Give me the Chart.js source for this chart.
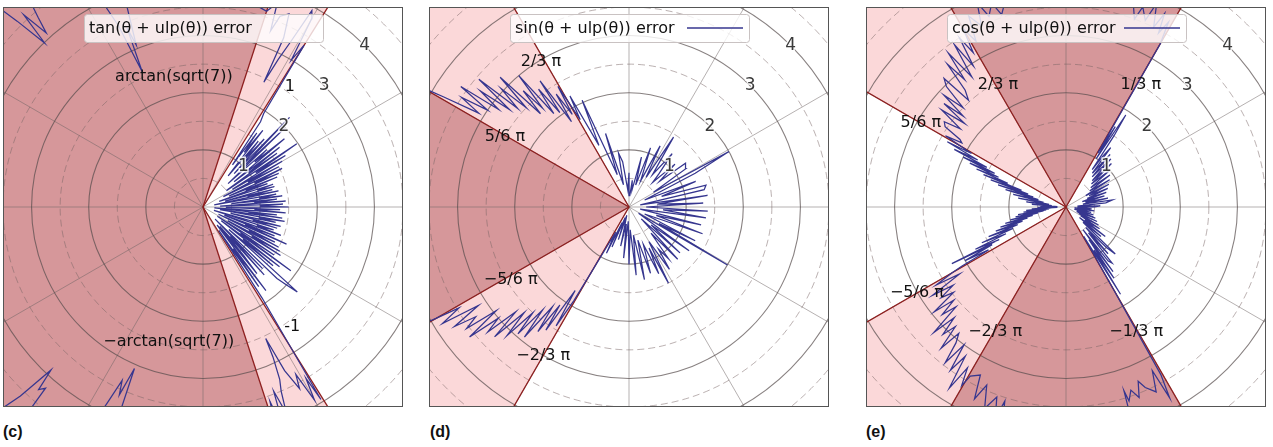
<!DOCTYPE html>
<html>
<head>
<meta charset="utf-8">
<script src="https://cdn.jsdelivr.net/npm/chart.js@4.4.1/dist/chart.umd.min.js"></script>
<style>
  body { margin: 0; background: #fff; }
  #wrap { position: relative; width: 1273px; height: 447px; overflow: hidden; }
  canvas { position: absolute; top: 7px; }
  .tag { position: absolute; top: 423px; font: bold 16px "Liberation Sans", Arial, sans-serif; color: #111; }
</style>
</head>
<body>
<div id="wrap">
  <canvas id="tanChart" width="400" height="400" style="left:3px"></canvas>
  <canvas id="sinChart" width="400" height="400" style="left:429px"></canvas>
  <canvas id="cosChart" width="400" height="400" style="left:866px"></canvas>
  <div class="tag" style="left:3px">(c)</div>
  <div class="tag" style="left:430px">(d)</div>
  <div class="tag" style="left:866px">(e)</div>
</div>
<script>
// error curves, theta in degrees, r in plot units
const tanTheta = [
  -180, -170, -160, -150, -140, -136, -134, -133, -132, -131,
  -130, -125, -118, -116, -115, -114, -113, -112, -110, -100,
  -90, -80, -75, -72, -71, -70, -69, -68, -67, -66,
  -65, -64.5, -63.5, -62, -61, -60, -59, -58.5,
  -57, -56, -55, -54, -53, -52, -51, -50, -49, -48,
  -47, -46, -45, -44, -43, -42, -41, -40, -39, -38,
  -37, -36, -35, -34, -33, -32, -31, -30, -29, -28,
  -27, -26, -25, -24, -23, -22, -21, -20, -19, -18,
  -17, -16, -15, -14, -13, -12, -11, -10, -9, -8,
  -7, -6, -5, -4, -3, -2, -1, 0, 1, 2,
  3, 4, 5, 6, 7, 8, 9, 10, 11, 12,
  13, 14, 15, 16, 17, 18, 19, 20, 21, 22,
  23, 24, 25, 26, 27, 28, 29, 30, 31, 32,
  33, 34, 35, 36, 37, 38, 39, 40, 41, 42,
  43, 44, 45, 46, 47, 48, 49, 50, 51, 52,
  53, 54, 55, 56, 57,
  58, 59, 60, 61, 62, 63, 64, 64.5, 66, 68,
  69, 70, 72, 74, 75, 80, 90, 100, 108, 110,
  112.4, 113, 114.2, 115, 117, 120, 128, 131, 132, 133,
  134, 135, 136, 140, 150, 165, 180
];
const tanR = [
  7, 7.5, 6.8, 7.2, 6.5, 5.5, 4.6, 3.9, 4.3, 4.2,
  5.2, 6.5, 5.0, 3.8, 3.35, 3.6, 3.07, 3.9, 5.5, 7,
  7.5, 6.5, 5.0, 4.3, 3.6, 4.2, 3.45, 3.9, 3.5, 3.3,
  2.9, 2.55, 3.2, 3.6, 3.35, 3.9, 3.5, 3.95,
  1.9, 0.5, 1.7, 0.9, 1.83, 0.4, 1.5, 1.1, 0.45, 1.6,
  0.7, 1.5, 0.3, 1.8, 2.0, 2.22, 0.6, 1.6, 0.9, 1.7,
  0.4, 1.9, 0.8, 1.5, 0.3, 1.6, 1.0, 1.55, 0.5, 1.5,
  0.9, 1.4, 0.3, 1.6, 0.8, 1.35, 0.4, 1.45, 1.0, 1.3,
  0.2, 1.35, 0.9, 1.4, 0.5, 1.3, 1.0, 1.45, 0.3, 1.4,
  0.8, 1.3, 0.2, 1.45, 0.9, 1.35, 0.4, 1.5, 1.0, 1.4,
  0.3, 1.45, 0.9, 1.3, 0.5, 1.4, 1.0, 1.3, 0.2, 1.35,
  0.8, 1.25, 0.4, 1.3, 1.0, 1.29, 0.3, 1.2, 0.8, 1.4,
  0.5, 1.45, 1.0, 1.54, 0.4, 1.5, 0.9, 1.6, 0.6, 1.7,
  1.1, 1.98, 0.5, 1.6, 1.0, 1.7, 0.7, 1.86, 1.2, 1.5,
  0.6, 2.0, 1.0, 2.18, 0.8, 1.6, 1.1, 1.5, 0.7, 1.7,
  1.2, 1.6, 0.9, 1.8, 1.95,
  3.34, 3.0, 3.8, 3.93, 3.3, 2.9, 2.43, 3.28, 3.7, 3.6,
  3.3, 3.8, 3.6, 3.63, 5, 6.5, 7, 6, 5, 4.2,
  3.07, 3.4, 2.59, 3.5, 4.5, 6, 5.5, 4.4, 4.1, 4.6,
  3.99, 4.6, 5.2, 6.5, 7, 7.2, 7
];

const sinTheta = [
  -180, -170, -160, -152, -150.5,
  -150, -149.3, -148, -146.8, -145.6, -144.4, -143.2, -142, -140.8, -139.6,
  -138.5, -137.2, -136, -134.8, -133.5, -132.3, -131.2, -130, -128.8, -127.5,
  -126.2, -125.2, -124, -122.8, -121.5, -120.5,
  -120, -118, -116, -114, -113, -110, -108, -105, -102, -99,
  -96, -93, -90, -87, -84, -81, -78, -75, -72, -69,
  -66, -64, -62.6, -60, -57, -55, -52.6, -50, -47, -44,
  -42, -39, -36, -33, -30.5, -29, -27, -24, -20, -17,
  -14, -11, -8, -5, -3, 0, 3, 6, 8.5, 11,
  13, 15.8, 18, 21, 24, 27, 29, 31, 34, 37.7,
  40, 43, 46, 48, 51, 54, 57.5, 60, 63, 66,
  70, 73, 76, 80, 83, 86, 90, 94, 98, 101,
  104, 107.7, 110, 113.7, 116,
  118, 119.2, 120.5, 121.5, 122.8, 124, 125.2, 126.2, 127.5, 128.8,
  130, 131.2, 132.3, 133.5, 134.8, 136, 137.2, 138.5, 139.6, 140.8,
  142, 143.2, 144.4, 145.6, 146.8, 148, 149.3, 150,
  152, 160, 170, 180
];
const sinR = [
  6.5, 7, 6.8, 6, 4.2,
  3.9, 3.46, 3.85, 3.15, 3.7, 3.3, 3.55, 2.95, 3.6, 3.0,
  3.3, 2.7, 3.27, 2.6, 3.1, 2.5, 2.95, 2.35, 2.92, 2.2,
  2.7, 2.1, 2.6, 1.74, 2.44, 1.9,
  1.3, 0.5, 0.9, 0.3, 0.76, 0.2, 0.6, 0.15, 0.7, 0.3,
  0.9, 0.25, 1.0, 0.4, 1.2, 0.5, 1.3, 0.6, 1.22, 0.7,
  1.28, 0.8, 1.5, 0.7, 1.3, 0.9, 1.14, 0.6, 1.25, 0.3,
  1.2, 0.5, 1.3, 0.2, 2.0, 0.6, 1.3, 0.3, 1.37, 0.5,
  1.3, 0.2, 1.36, 0.6, 1.38, 0.3, 1.3, 0.5, 1.39, 0.2,
  1.35, 1.4, 0.6, 1.25, 0.3, 1.3, 2.0, 0.5, 1.2, 1.25,
  0.7, 1.1, 0.6, 0.79, 1.2, 0.7, 1.45, 0.6, 1.2, 0.5,
  1.1, 0.4, 0.9, 0.3, 0.47, 0.2, 0.6, 0.3, 0.8, 0.96,
  0.4, 1.35, 0.6, 2.04, 1.2,
  2.2, 1.75, 2.45, 1.9, 2.35, 1.8, 2.7, 2.05, 2.6, 2.1,
  3.0, 2.3, 2.75, 2.25, 3.2, 2.5, 3.05, 2.6, 3.45, 2.7,
  3.3, 2.85, 3.62, 3.0, 3.5, 3.1, 3.78, 4.2,
  6, 6.8, 7, 6.5
];

const cosTheta = [
  -180, -179, -178, -177, -176, -175, -174, -173, -172, -171,
  -170, -169, -168, -167, -166, -165, -164, -163, -162, -161,
  -160, -159, -158, -157, -156, -155, -154, -153.6, -153, -152,
  -151, -150.4,
  -150, -149, -147.8, -146.5, -145.3, -144, -142.8, -141.5, -140.3, -139,
  -137.8, -136.5, -135.3, -134, -132.8, -131.5, -130.3, -129, -127.8, -126.5,
  -125.3, -124, -122.8, -121.5, -120.3, -119.5,
  -117, -115.5, -114, -112, -110, -108.5, -107.5, -106, -104, -100,
  -90, -80, -75, -73, -72.5, -72, -70.5, -69, -67.5, -66.3,
  -64, -62.2, -61.5, -60.5,
  -60, -59, -58, -57, -56, -55, -54, -53, -52, -50.6,
  -49, -48, -46, -45, -43.6, -42, -40, -38, -37, -35,
  -33, -31, -29, -27, -25, -23, -21, -20, -18, -16,
  -14, -12, -10, -8, -6, -4, -2, 0, 2, 4,
  6, 8.7, 10, 12, 14, 16, 18, 20, 22, 24,
  26, 28, 30, 32, 34, 36, 38, 40, 42, 43.7,
  45, 47, 49, 50, 52, 53, 54, 55, 56, 57,
  58, 58.5, 59.5,
  60, 61, 62, 63, 64, 66, 67, 69, 70, 72,
  74, 78, 90, 100, 105, 107, 108.5, 110, 112, 113.5,
  115, 117, 118.5,
  120, 121, 122.2, 123.3, 124.5, 125.9, 127.4, 128.5, 129.7, 130.8,
  132.4, 133.5, 134.8, 136, 137.5, 138.5, 139.7, 140.5, 142, 143.5,
  145, 146.4, 147.5, 148.4, 149.4,
  150.5, 151.2, 152, 152.7, 153.4, 154.1, 154.8, 155.5, 156.2, 157,
  157.8, 158.6, 159.4, 160.2, 161, 162, 163, 164, 165, 166.5,
  168, 169.5, 171, 172.5, 174, 175.5, 177, 178.5, 180
];
const cosR = [
  0.3, 0.5, 0.15, 0.6, 0.25, 0.7, 0.3, 0.75, 0.35, 0.85,
  0.4, 0.9, 0.5, 1.0, 0.6, 1.1, 0.7, 1.2, 0.8, 1.3,
  0.9, 1.45, 1.0, 1.6, 1.15, 1.75, 1.3, 2.23, 1.45, 2.0,
  1.55, 2.1,
  2.3, 2.65, 2.2, 2.8, 2.4, 2.7, 2.47, 2.95, 2.55, 2.87,
  2.6, 3.19, 2.75, 3.1, 2.85, 3.3, 2.9, 3.06, 3.45, 3.0,
  3.5, 3.15, 3.77, 3.3, 3.62, 3.4,
  3.3, 3.72, 3.41, 3.8, 3.54, 3.9, 3.56, 4.1, 5, 6.5,
  7, 6.5, 5, 4, 3.37, 3.57, 3.4, 3.57, 3.3, 3.45,
  3.6, 3.24, 3.8, 3.37,
  1.6, 0.6, 1.8, 0.9, 1.5, 0.7, 1.4, 0.5, 1.2, 1.27,
  0.6, 1.1, 0.5, 1.0, 1.19, 0.4, 0.8, 0.3, 0.86, 0.4,
  0.7, 0.3, 0.65, 0.25, 0.6, 0.2, 0.55, 0.49, 0.2, 0.5,
  0.15, 0.45, 0.2, 0.5, 0.15, 0.45, 0.2, 0.5, 0.6, 0.2,
  0.7, 0.82, 0.3, 0.75, 0.35, 0.7, 0.3, 0.75, 0.4, 0.8,
  0.45, 0.85, 0.4, 0.9, 0.5, 0.95, 0.55, 1.0, 0.6, 1.1,
  0.65, 1.15, 0.7, 1.2, 0.75, 1.3, 1.11, 0.8, 1.5, 1.92,
  1.0, 1.65, 1.1,
  3.3, 3.7, 3.45, 3.8, 3.5, 3.9, 3.55, 3.75, 3.5, 3.8,
  4.3, 5.5, 7, 6, 4.5, 3.7, 3.55, 3.8, 3.6, 3.9,
  3.5, 3.75, 3.3,
  3.6, 3.15, 3.5, 2.95, 3.45, 2.81, 3.39, 2.85, 3.25, 2.7,
  2.53, 3.1, 2.97, 2.5, 2.9, 2.4, 2.8, 2.3, 2.76, 2.3,
  2.6, 2.54, 2.2, 2.14, 2.45,
  1.9, 2.37, 1.75, 2.2, 1.55, 2.0, 1.38, 1.85, 1.29, 1.7,
  1.1, 1.55, 0.83, 1.4, 0.7, 1.25, 0.6, 1.1, 0.5, 0.95,
  0.4, 0.85, 0.3, 0.7, 0.25, 0.6, 0.15, 0.45, 0.3
];

// shaded sectors, [from, to] in degrees
const tanDark = [[72, 288]];
const tanLight = [[58, 72], [288, 302]];
const sinDark = [[150, 210]];
const sinLight = [[120, 150], [210, 240]];
const cosDark = [[60, 120], [240, 300]];
const cosLight = [[120, 150], [210, 240]];

const ringValues = [0.5, 1, 1.5, 2, 2.5, 3, 3.5, 4, 4.5];
const ringLabels = ['1', '2', '3', '4'];
const spokeAngles = [0, 30, 60, 90, 120, 150, 180, 210, 240, 270, 300, 330];

const DEG = Math.PI / 180;
const DARK = '#d6979a';
const LIGHT = '#fbd8d9';
const EDGE = '#8e1f1f';
const CURVE = '#36368f';
const FONT = '"DejaVu Sans", "Liberation Sans", sans-serif';

function polarPoints(theta, r) {
  return theta.map((t, i) => ({ x: r[i] * Math.cos(t * DEG), y: r[i] * Math.sin(t * DEG) }));
}

const polarDecor = {
  id: 'polarDecor',
  beforeDatasetsDraw(chart, args, opts) {
    const { ctx, chartArea: a } = chart;
    const sx = chart.scales.x, sy = chart.scales.y;
    const cx = sx.getPixelForValue(0), cy = sy.getPixelForValue(0);
    const unit = sx.getPixelForValue(1) - cx;
    ctx.save();
    ctx.beginPath();
    ctx.rect(a.left, a.top, a.width, a.height);
    ctx.clip();
    ctx.fillStyle = '#fff';
    ctx.fillRect(a.left, a.top, a.width, a.height);

    const wedge = (w, color) => {
      ctx.beginPath();
      ctx.moveTo(cx, cy);
      ctx.arc(cx, cy, unit * 7, -w[0] * DEG, -w[1] * DEG, true);
      ctx.closePath();
      ctx.fillStyle = color;
      ctx.fill();
    };
    opts.light.forEach(w => wedge(w, LIGHT));
    opts.dark.forEach(w => wedge(w, DARK));

    // spokes
    ctx.lineWidth = 1;
    ctx.strokeStyle = 'rgba(110,100,100,0.5)';
    spokeAngles.forEach(t => {
      ctx.beginPath();
      ctx.moveTo(cx, cy);
      ctx.lineTo(sx.getPixelForValue(6 * Math.cos(t * DEG)), sy.getPixelForValue(6 * Math.sin(t * DEG)));
      ctx.stroke();
    });

    // rings
    ringValues.forEach(r => {
      const solid = Number.isInteger(r);
      ctx.setLineDash(solid ? [] : [7, 4]);
      ctx.strokeStyle = solid ? 'rgba(85,75,75,0.7)' : 'rgba(120,100,100,0.5)';
      ctx.lineWidth = solid ? 1.1 : 1;
      ctx.beginPath();
      ctx.arc(cx, cy, sx.getPixelForValue(r) - cx, 0, 2 * Math.PI);
      ctx.stroke();
    });
    ctx.setLineDash([]);

    // sector edges
    const edges = new Set();
    opts.light.concat(opts.dark).forEach(w => { edges.add(w[0] % 360); edges.add(w[1] % 360); });
    ctx.strokeStyle = EDGE;
    ctx.lineWidth = 1.3;
    edges.forEach(t => {
      ctx.beginPath();
      ctx.moveTo(cx, cy);
      ctx.lineTo(sx.getPixelForValue(6 * Math.cos(t * DEG)), sy.getPixelForValue(6 * Math.sin(t * DEG)));
      ctx.stroke();
    });
    ctx.restore();
  },
  afterDatasetsDraw(chart, args, opts) {
    const { ctx, chartArea: a } = chart;
    const sx = chart.scales.x, sy = chart.scales.y;
    ctx.save();
    ctx.textAlign = 'center';
    ctx.textBaseline = 'middle';

    // radius labels along 45 degrees
    ctx.font = '17px ' + FONT;
    ringLabels.forEach((lab, i) => {
      const r = i + 1;
      const x = sx.getPixelForValue(r * Math.cos(45 * DEG));
      const y = sy.getPixelForValue(r * Math.sin(45 * DEG));
      ctx.lineWidth = 3;
      ctx.strokeStyle = 'rgba(255,255,255,0.85)';
      ctx.strokeText(lab, x, y);
      ctx.fillStyle = '#3a3a3a';
      ctx.fillText(lab, x, y);
    });

    // sector annotations
    ctx.font = '16px ' + FONT;
    ctx.fillStyle = '#111';
    opts.notes.forEach(n => {
      ctx.fillText(n.text, sx.getPixelForValue(n.x), sy.getPixelForValue(n.y));
    });

    // legend
    ctx.beginPath();
    ctx.roundRect(81.5, 7.5, 239, 28, 3);
    ctx.fillStyle = 'rgba(255,255,255,0.8)';
    ctx.fill();
    ctx.strokeStyle = '#c9c2c2';
    ctx.lineWidth = 1;
    ctx.stroke();
    ctx.textAlign = 'left';
    ctx.fillStyle = '#111';
    ctx.fillText(opts.legend, 86, 21.5);
    if (opts.legendLine) {
      ctx.beginPath();
      ctx.moveTo(258, 21);
      ctx.lineTo(314, 21);
      ctx.strokeStyle = CURVE;
      ctx.lineWidth = 1.3;
      ctx.stroke();
    }

    // frame
    ctx.strokeStyle = '#555';
    ctx.lineWidth = 1;
    ctx.strokeRect(a.left + 0.5, a.top + 0.5, a.width - 1, a.height - 1);
    ctx.restore();
  }
};

function makePolar(id, theta, r, decor) {
  return new Chart(document.getElementById(id), {
    type: 'scatter',
    data: {
      datasets: [{
        data: polarPoints(theta, r),
        showLine: true,
        borderColor: CURVE,
        borderWidth: 1.25,
        pointRadius: 0,
        fill: false
      }]
    },
    options: {
      responsive: false,
      animation: false,
      devicePixelRatio: 1,
      layout: { padding: 0 },
      plugins: { legend: { display: false }, tooltip: { enabled: false }, polarDecor: decor },
      scales: {
        x: { type: 'linear', min: -3.5, max: 3.5, display: false },
        y: { type: 'linear', min: -3.5, max: 3.5, display: false }
      }
    },
    plugins: [polarDecor]
  });
}

makePolar('tanChart', tanTheta, tanR, {
  dark: tanDark, light: tanLight,
  legend: 'tan(θ + ulp(θ)) error', legendLine: false,
  notes: [
    { text: 'arctan(sqrt(7))', x: -0.51, y: 2.28 },
    { text: '1', x: 1.52, y: 2.1 },
    { text: '-1', x: 1.56, y: -2.1 },
    { text: '\u2212arctan(sqrt(7))', x: -0.6, y: -2.36 }
  ]
});

makePolar('sinChart', sinTheta, sinR, {
  dark: sinDark, light: sinLight,
  legend: 'sin(θ + ulp(θ)) error', legendLine: true,
  notes: [
    { text: '2/3 π', x: -1.54, y: 2.54 },
    { text: '5/6 π', x: -2.17, y: 1.23 },
    { text: '\u22125/6 π', x: -2.07, y: -1.28 },
    { text: '\u22122/3 π', x: -1.5, y: -2.61 }
  ]
});

makePolar('cosChart', cosTheta, cosR, {
  dark: cosDark, light: cosLight,
  legend: 'cos(θ + ulp(θ)) error', legendLine: true,
  notes: [
    { text: '2/3 π', x: -1.19, y: 2.14 },
    { text: '5/6 π', x: -2.54, y: 1.47 },
    { text: '1/3 π', x: 1.31, y: 2.14 },
    { text: '\u22125/6 π', x: -2.61, y: -1.51 },
    { text: '\u22122/3 π', x: -1.24, y: -2.19 },
    { text: '\u22121/3 π', x: 1.23, y: -2.19 }
  ]
});
</script>
</body>
</html>
